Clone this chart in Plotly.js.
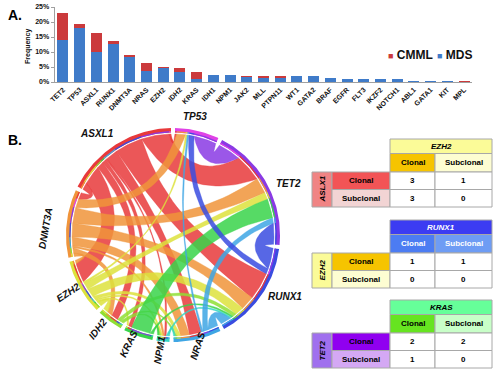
<!DOCTYPE html>
<html><head><meta charset="utf-8">
<script src="https://cdn.plot.ly/plotly-3.0.1.min.js"></script>
<style>html,body{margin:0;padding:0;background:#fff}#chart{width:500px;height:375px}</style>
</head><body><div id="chart"></div>
<script>
// ---------- Panel A data ----------
const mutGenes = ['TET2','TP53','ASXL1','RUNX1','DNMT3A','NRAS','EZH2','IDH2','KRAS','IDH1','NPM1','JAK2','MLL','PTPN11','WT1','GATA2','BRAF','EGFR','FLT3','IKZF2','NOTCH1','ABL1','GATA1','KIT','MPL'];
const mdsFreq  = [14.0,17.9,9.9,12.7,8.4,3.7,4.6,3.2,1.0,2.3,2.3,1.6,1.4,1.4,1.9,1.9,1.3,0.9,0.9,0.9,0.9,0.5,0.5,0.5,0.0];
const cmmlFreq = [9.0,1.4,6.3,0.9,0.6,2.6,0.4,1.4,2.2,0.0,0.0,0.4,0.5,0.5,0.0,0.0,0.0,0.0,0.0,0.0,0.0,0.0,0.0,0.0,0.5];
const yTickVals = [0,5,10,15,20,25];
const seriesNames = ['CMML','MDS'];

// ---------- Panel B chord data ----------
const chordGenes = ['TP53','TET2','RUNX1','NRAS','NPM1','KRAS','IDH2','EZH2','DNMT3A','ASXL1'];
const linkSource = ['ASXL1','ASXL1','ASXL1','ASXL1','ASXL1','ASXL1','ASXL1','ASXL1','ASXL1',
                    'DNMT3A','DNMT3A','DNMT3A','DNMT3A','DNMT3A','DNMT3A','DNMT3A',
                    'EZH2','EZH2','EZH2','EZH2','EZH2','EZH2','EZH2',
                    'IDH2','IDH2','IDH2','KRAS','KRAS','KRAS','NPM1','NPM1',
                    'NRAS','NRAS','NRAS','RUNX1','RUNX1','TET2'];
const linkTarget = ['TET2','RUNX1','EZH2','NRAS','IDH2','DNMT3A','KRAS','NPM1','TP53',
                    'TET2','RUNX1','TP53','NRAS','IDH2','EZH2','NPM1',
                    'RUNX1','TET2','IDH2','NRAS','TP53','KRAS','NPM1',
                    'RUNX1','NRAS','NPM1','TET2','RUNX1','NPM1','RUNX1','NRAS',
                    'RUNX1','TET2','TP53','TET2','TP53','TP53'];
const linkValue  = [16,16,11,7,4,4,2,1,1,
                    9,8,5,5,3,2,1,
                    5,4,3,2,1,1,1,
                    2,1,1,11,1,1,1,1,
                    6,3,1,12,3,13];

// ---------- Panel B tables data ----------
const tableColGenes = ['EZH2','RUNX1','KRAS'];
const tableRowGenes = ['ASLX1','EZH2','TET2'];
const clonality = ['Clonal','Subclonal'];
const tableValues = [[[3,1],[3,0]], [[1,1],[0,0]], [[2,2],[1,0]]];

// ---------- styles ----------
const FONT = 'Liberation Sans, Arial, sans-serif';
const geneColors = {ASXL1:'#e8393b', DNMT3A:'#f0943a', EZH2:'#dde23c', IDH2:'#8fdf34', KRAS:'#38d44a',
  NPM1:'#36d6c4', NRAS:'#3ea6e4', RUNX1:'#3a4ce0', TET2:'#8a3ae4', TP53:'#e042e6'};
const tableStyles = [
  {head:'#fbfb98', headText:'#000', cCl:'#f6c400', cSub:'#fdfdd2', cText:'#000', rGene:'#f08484', rCl:'#f25456', rSub:'#f2d4d4'},
  {head:'#3c3cf2', headText:'#fff', cCl:'#4c7cf2', cSub:'#6e9cf4', cText:'#fff', rGene:'#fbfb98', rCl:'#f6c400', rSub:'#fdfdd2'},
  {head:'#66ff99', headText:'#000', cCl:'#66e420', cSub:'#c8ffc8', cText:'#000', rGene:'#a070ee', rCl:'#9000f0', rSub:'#d4a8f4'}
];
const tableTops = [139, 220, 300];
const colEdges = [312, 332, 390, 435, 492];
const rowOffs = [0, 14.5, 33, 50.5, 68];

const traces = [];
const shapes = [];
const annotations = [];

// ---------- Panel A ----------
const MDS_C = '#3f7bc9', CMML_C = '#cb3a3c';
traces.push({type:'bar', x:mutGenes, y:mdsFreq, name:'MDS', marker:{color:MDS_C}, showlegend:false, hoverinfo:'skip'});
traces.push({type:'bar', x:mutGenes, y:cmmlFreq, name:'CMML', marker:{color:CMML_C}, showlegend:false, hoverinfo:'skip'});
// legend (compact, as in the reference)
const legendPos = [[386,55],[435,55]];
[CMML_C, MDS_C].forEach((c,i)=>{
  annotations.push({xref:'x2', yref:'y2', x:legendPos[i][0], y:legendPos[i][1], xanchor:'left', showarrow:false,
    text:`<span style="color:${c};font-size:9px">■</span> ${seriesNames[i]}`,
    font:{family:FONT, size:12, color:'#111', weight:'bold'}});
});

// ---------- Panel B chord ----------
const cx = 173, cy = 235, rRib = 101, rIn = 102.5, rOut = 107;
const n = chordGenes.length;
const gi = {}; chordGenes.forEach((g,i)=>gi[g]=i);
const tot = new Array(n).fill(0);
linkSource.forEach((s,k)=>{ tot[gi[s]] += linkValue[k]; tot[gi[linkTarget[k]]] += linkValue[k]; });
const sum = tot.reduce((a,b)=>a+b,0);
const gap = 2.2, scale = (360 - gap*n)/sum;
const gStart = [], gEnd = [];
let acc = gap/2;
for (let i=0;i<n;i++){ gStart[i]=acc; gEnd[i]=acc+tot[i]*scale; acc=gEnd[i]+gap; }
const ends = chordGenes.map(()=>[]);
linkSource.forEach((s,k)=>{ const i=gi[s], j=gi[linkTarget[k]]; ends[i].push({k,p:j}); ends[j].push({k,p:i}); });
const pos = {};
for (let i=0;i<n;i++){
  ends[i].sort((u,v)=>((v.p-i+n)%n)-((u.p-i+n)%n));
  let c = gStart[i];
  ends[i].forEach(e=>{ pos[e.k+'_'+i]=[c, c+linkValue[e.k]*scale]; e.a0=c; e.a1=c+linkValue[e.k]*scale; c=e.a1; });
}
function pt(r,deg){ const t=deg*Math.PI/180; return [cx+r*Math.sin(t), cy-r*Math.cos(t)]; }
function arcInto(X,Y,r,a0,a1){ const steps=Math.max(2,Math.ceil(Math.abs(a1-a0))); for(let s=0;s<=steps;s++){ const p=pt(r,a0+(a1-a0)*s/steps); X.push(p[0]); Y.push(p[1]); } }
function bezInto(X,Y,a,b){
  let d = Math.abs(b-a)%360; if (d>180) d=360-d;
  const diff = ((b-a)%360+360)%360;
  const mid = diff<=180 ? a+diff/2 : a-(360-diff)/2;
  const rc = d<120 ? rRib*0.85*(1-d/120) : 0;
  const c = pt(rc, mid), p0 = pt(rRib,a), p2 = pt(rRib,b);
  for (let s=1;s<30;s++){ const t=s/30, u=1-t;
    X.push(u*u*p0[0]+2*u*t*c[0]+t*t*p2[0]); Y.push(u*u*p0[1]+2*u*t*c[1]+t*t*p2[1]); }
}
function hexA(h,a){ const v=parseInt(h.slice(1),16); return `rgba(${v>>16},${(v>>8)&255},${v&255},${a})`; }
linkSource.forEach((s,k)=>{
  const i=gi[s], j=gi[linkTarget[k]];
  const A=pos[k+'_'+i], B=pos[k+'_'+j];
  const X=[],Y=[];
  arcInto(X,Y,rRib,A[0],A[1]); bezInto(X,Y,A[1],B[0]);
  arcInto(X,Y,rRib,B[0],B[1]); bezInto(X,Y,B[1],A[0]);
  X.push(X[0]); Y.push(Y[0]);
  traces.push({type:'scatter', mode:'lines', x:X, y:Y, xaxis:'x2', yaxis:'y2', fill:'toself',
    fillcolor:hexA(geneColors[s],0.85), line:{width:0.4, color:hexA(geneColors[s],0.95)}, showlegend:false, hoverinfo:'skip'});
});
// outer ring
for (let i=0;i<n;i++){
  const X=[],Y=[];
  arcInto(X,Y,rOut,gStart[i],gEnd[i]); arcInto(X,Y,rIn,gEnd[i],gStart[i]); X.push(X[0]); Y.push(Y[0]);
  traces.push({type:'scatter', mode:'lines', x:X, y:Y, xaxis:'x2', yaxis:'y2', fill:'toself',
    fillcolor:geneColors[chordGenes[i]], line:{width:0}, showlegend:false, hoverinfo:'skip'});
  ends[i].forEach(e=>{
    const X2=[],Y2=[];
    arcInto(X2,Y2,rIn+1.3,e.a0,e.a1); arcInto(X2,Y2,rIn,e.a1,e.a0); X2.push(X2[0]); Y2.push(Y2[0]);
    traces.push({type:'scatter', mode:'lines', x:X2, y:Y2, xaxis:'x2', yaxis:'y2', fill:'toself',
      fillcolor:geneColors[chordGenes[e.p]], line:{width:0}, showlegend:false, hoverinfo:'skip'});
  });
}
// chord labels
const labelPos = {TP53:[195,116,0], TET2:[288,183,0], RUNX1:[285,296,0], NRAS:[197,346,-72], NPM1:[159,350,-80],
  KRAS:[128,344,-64], IDH2:[97,329,-52], EZH2:[68,292,-33], DNMT3A:[45,228,-80], ASXL1:[97,133,0]};
chordGenes.forEach(g=>{
  const p=labelPos[g];
  annotations.push({xref:'x2', yref:'y2', x:p[0], y:p[1], text:g, showarrow:false, textangle:p[2],
    font:{family:FONT, size:10, color:'#111', weight:'bold', style:'italic'}});
});

// ---------- Panel B tables ----------
function rect(x0,x1,y0,y1,fill){ shapes.push({type:'rect', xref:'x2', yref:'y2', x0, x1, y0, y1, fillcolor:fill, line:{color:'#a8a8a8', width:1}, layer:'above'}); }
function txt(x,y,t,color,opts){ annotations.push(Object.assign({xref:'x2', yref:'y2', x, y, text:t, showarrow:false,
  font:{family:FONT, size:8, color, weight:'bold'}}, opts||{})); }
tableColGenes.forEach((cg,t)=>{
  const st=tableStyles[t], top=tableTops[t];
  const R=rowOffs.map(o=>top+o), C=colEdges;
  rect(C[2],C[4],R[0],R[1],st.head);
  txt((C[2]+C[4])/2,(R[0]+R[1])/2,cg,st.headText,{font:{family:FONT,size:8,color:st.headText,weight:'bold',style:'italic'}});
  rect(C[2],C[3],R[1],R[2],st.cCl); rect(C[3],C[4],R[1],R[2],st.cSub);
  txt((C[2]+C[3])/2,(R[1]+R[2])/2,clonality[0],st.cText);
  txt((C[3]+C[4])/2,(R[1]+R[2])/2,clonality[1],st.cText);
  rect(C[0],C[1],R[2],R[4],st.rGene);
  txt((C[0]+C[1])/2,(R[2]+R[4])/2,tableRowGenes[t],'#000',{textangle:-90,font:{family:FONT,size:8,color:'#000',weight:'bold',style:'italic'}});
  rect(C[1],C[2],R[2],R[3],st.rCl); rect(C[1],C[2],R[3],R[4],st.rSub);
  txt((C[1]+C[2])/2,(R[2]+R[3])/2,clonality[0],'#000');
  txt((C[1]+C[2])/2,(R[3]+R[4])/2,clonality[1],'#000');
  for (let r=0;r<2;r++) for (let c=0;c<2;c++){
    rect(C[2+c],C[3+c],R[2+r],R[3+r],'#ffffff');
    txt((C[2+c]+C[3+c])/2,(R[2+r]+R[3+r])/2,String(tableValues[t][r][c]),'#000');
  }
});

// panel letters & axis title
annotations.push({xref:'x2', yref:'y2', x:15, y:15, text:'A.', showarrow:false, font:{family:FONT,size:14,color:'#000',weight:'bold'}});
annotations.push({xref:'x2', yref:'y2', x:15, y:140, text:'B.', showarrow:false, font:{family:FONT,size:14,color:'#000',weight:'bold'}});
annotations.push({xref:'x2', yref:'y2', x:28, y:46, text:'Frequency', showarrow:false, textangle:-90, font:{family:FONT,size:7,color:'#111',weight:'bold'}});

const layout = {
  width:500, height:375, margin:{l:0,r:0,t:0,b:0},
  paper_bgcolor:'#ffffff', plot_bgcolor:'rgba(0,0,0,0)',
  barmode:'stack', bargap:0.34, showlegend:false,
  font:{family:FONT},
  xaxis:{domain:[54.6/500, 472.4/500], type:'category', range:[-0.5,24.5], tickangle:-45,
    tickfont:{family:FONT,size:7,color:'#111',weight:'bold'}, showline:true, linecolor:'#a0a0a0', linewidth:1,
    ticks:'', showgrid:false, zeroline:false, fixedrange:true},
  yaxis:{domain:[1-82/375, 1-7/375], range:[0,25], tickmode:'array', tickvals:yTickVals, ticktext:yTickVals.map(v=>v+'%'),
    tickfont:{family:FONT,size:7,color:'#111',weight:'bold'}, showline:true, linecolor:'#a0a0a0', ticks:'outside',
    ticklen:3, tickcolor:'#a0a0a0', showgrid:false, zeroline:false, fixedrange:true},
  xaxis2:{domain:[0,1], range:[0,500], visible:false, anchor:'y2', fixedrange:true},
  yaxis2:{domain:[0,1], range:[375,0], visible:false, anchor:'x2', fixedrange:true},
  shapes, annotations
};
Plotly.newPlot('chart', traces, layout, {displayModeBar:false, staticPlot:true});
</script></body></html>
